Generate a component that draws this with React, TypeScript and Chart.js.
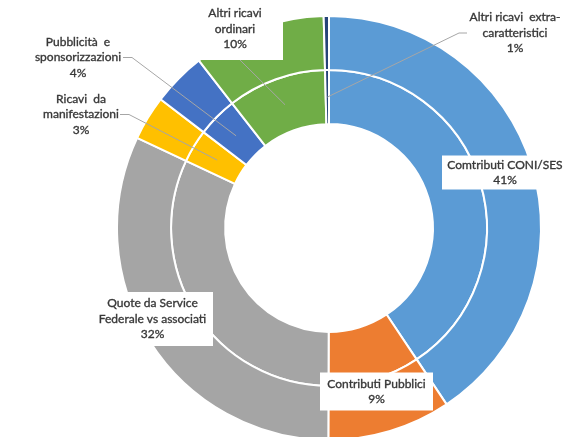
import React, { useEffect, useRef } from "react";
import { Chart, registerables } from "chart.js";

Chart.register(...registerables);

// ---- data ----
const categories = [
  "Comtributi CONI/SES",
  "Contributi Pubblici",
  "Quote da Service Federale vs associati",
  "Ricavi da manifestazioni",
  "Pubblicità e sponsorizzazioni",
  "Altri ricavi ordinari",
  "Altri ricavi extra-caratteristici",
];
const shares = [40.6, 9.4, 31.9, 3.4, 4.1, 10.1, 0.4];
const percentLabels = ["41%", "9%", "32%", "3%", "4%", "10%", "1%"];
const labelLines = [
  ["Comtributi CONI/SES"],
  ["Contributi Pubblici"],
  ["Quote da Service", "Federale vs associati"],
  ["Ricavi  da", "manifestazioni"],
  ["Pubblicità  e", "sponsorizzazioni"],
  ["Altri ricavi", "ordinari"],
  ["Altri ricavi  extra-", "caratteristici"],
];
const sliceColors = ["#5B9BD5", "#ED7D31", "#A5A5A5", "#FFC000", "#4472C4", "#70AD47", "#264478"];

// ---- label layout (relative to the doughnut centre) ----
type Layout = { dx: number; dy: number; w: number; h: number; leader: null | "left" | "right" | "bottom" };
const labelLayout: Layout[] = [
  { dx: 176, dy: -55.5, w: 126, h: 34, leader: null },
  { dx: 47.5, dy: 163.5, w: 113, h: 38, leader: null },
  { dx: -176.5, dy: 91, w: 121, h: 54, leader: null },
  { dx: -248, dy: -113.5, w: 78, h: 50, leader: "right" },
  { dx: -251, dy: -170.5, w: 90, h: 50, leader: "right" },
  { dx: -94, dy: -199, w: 96, h: 62, leader: "bottom" },
  { dx: 186, dy: -195, w: 96, h: 50, leader: "left" },
];

const FONT = "12px Lato";
const TEXT_COLOR = "#383838";
const LINE_H = 15.5;

const labelPlugin = {
  id: "excelLabels",
  afterDatasetsDraw(chart: any) {
    const ctx = chart.ctx as CanvasRenderingContext2D;
    const outerMeta = chart.getDatasetMeta(0);
    const innerMeta = chart.getDatasetMeta(1);
    const first = outerMeta.data[0];
    if (!first) return;
    const cx = first.x;
    const cy = first.y;
    ctx.save();
    // leader lines
    ctx.strokeStyle = "#A6A6A6";
    ctx.lineWidth = 1;
    labelLayout.forEach((l, i) => {
      if (!l.leader) return;
      const target = innerMeta.data[i].getCenterPoint();
      const bx = cx + l.dx;
      const by = cy + l.dy;
      ctx.beginPath();
      if (l.leader === "right") {
        const sx = bx + l.w / 2;
        ctx.moveTo(sx, by);
        ctx.lineTo(sx + 9, by);
      } else if (l.leader === "left") {
        const sx = bx - l.w / 2;
        ctx.moveTo(sx, by);
        ctx.lineTo(sx - 8, by);
      } else {
        ctx.moveTo(bx + 5, by + l.h / 2);
      }
      ctx.lineTo(target.x, target.y);
      ctx.stroke();
    });
    // boxes and text
    ctx.font = FONT;
    ctx.textAlign = "center";
    ctx.textBaseline = "middle";
    labelLayout.forEach((l, i) => {
      const bx = cx + l.dx;
      const by = cy + l.dy;
      ctx.fillStyle = "#FFFFFF";
      ctx.fillRect(bx - l.w / 2, by - l.h / 2, l.w, l.h);
      const lines = [...labelLines[i], percentLabels[i]];
      ctx.fillStyle = TEXT_COLOR;
      ctx.strokeStyle = TEXT_COLOR;
      ctx.lineWidth = 0.35;
      const y0 = by - ((lines.length - 1) * LINE_H) / 2;
      lines.forEach((t, k) => {
        ctx.fillText(t, bx, y0 + k * LINE_H);
        ctx.strokeText(t, bx, y0 + k * LINE_H);
      });
    });
    ctx.restore();
  },
};

export default function App() {
  const ref = useRef<HTMLCanvasElement>(null);
  useEffect(() => {
    const canvas = ref.current;
    if (!canvas) return;
    const chart = new Chart(canvas, {
      type: "doughnut",
      data: {
        labels: categories,
        datasets: [
          { data: shares, backgroundColor: sliceColors, borderColor: "#FFFFFF", borderWidth: 2, clip: false } as any,
          { data: shares, backgroundColor: sliceColors, borderColor: "#FFFFFF", borderWidth: 2, clip: false } as any,
        ],
      },
      options: {
        responsive: false,
        animation: false,
        radius: 212,
        cutout: "49%",
        layout: { padding: { left: 129, right: 45, top: 28, bottom: 9 } },
        plugins: { legend: { display: false }, tooltip: { enabled: false } },
      } as any,
      plugins: [labelPlugin],
    });
    return () => chart.destroy();
  }, []);
  return (
    <div style={{ position: "absolute", left: 0, top: 0, width: 574, height: 437, overflow: "hidden", background: "#FFFFFF" }}>
      <canvas ref={ref} width={574} height={437} style={{ display: "block" }} />
    </div>
  );
}
